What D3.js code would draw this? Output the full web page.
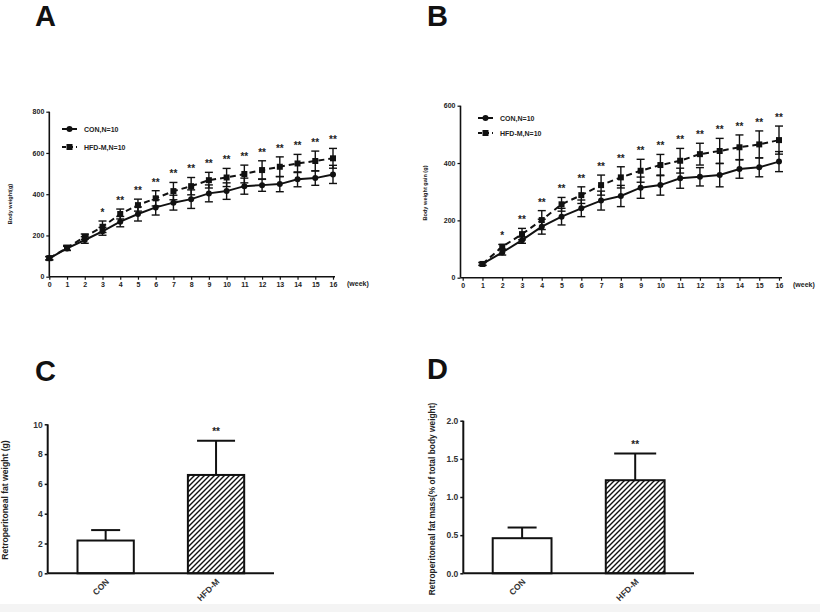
<!DOCTYPE html>
<html>
<head>
<meta charset="utf-8">
<script src="https://cdn.jsdelivr.net/npm/d3@7"></script>
<style>
  html, body { margin: 0; padding: 0; background: #fff; }
  svg { display: block; font-family: "Liberation Sans", Arial, sans-serif; }
</style>
</head>
<body>
<svg id="chart" width="820" height="612"></svg>
<script>
// ---------- DATA ----------
const weeksA = [0,1,2,3,4,5,6,7,8,9,10,11,12,13,14,15,16];
const conA    = [89,137,178,220,267,304,336,359,376,404,415,439,444,449,472,478,496];
const conASd  = [8,10,16,19,25,34,37,36,45,41,40,39,30,37,36,35,44];
const hfdA    = [90,140,194,242,304,347,380,415,439,468,481,498,517,533,549,561,574];
const hfdASd  = [8,12,13,28,24,29,37,42,42,38,44,43,45,48,44,48,48];
const starsA  = ["","","","*","**","**","**","**","**","**","**","**","**","**","**","**","**"];

const weeksB = [1,2,3,4,5,6,7,8,9,10,11,12,13,14,15,16];
const conB    = [48,88,131,178,213,242,269,285,314,323,347,352,358,379,385,405];
const conBSd  = [5,9,11,26,29,29,33,37,37,35,35,32,41,32,33,35];
const hfdB    = [48,108,152,201,256,288,323,350,373,393,408,431,442,455,465,480];
const hfdBSd  = [5,8,20,33,24,29,35,37,40,37,43,38,44,43,47,49];
const starsB  = ["","*","**","**","**","**","**","**","**","**","**","**","**","**","**","**"];

const xTicksLine = [0,1,2,3,4,5,6,7,8,9,10,11,12,13,14,15,16];
const yTicksA = [0,200,400,600,800];
const yTicksB = [0,200,400,600];

const groups     = ["CON","HFD-M"];
const fatWeight  = [2.2, 6.6];
const fatWeightSd= [0.7, 2.3];
const fatPct     = [0.46, 1.22];
const fatPctSd   = [0.14, 0.35];
const barSig     = ["","**"];
const yTicksC = [0,2,4,6,8,10];
const yTicksD = [0,0.5,1.0,1.5,2.0];

const seriesNames = ["CON,N=10","HFD-M,N=10"];

// ---------- DRAW ----------
const svg = d3.select("#chart");
const FONT = "Liberation Sans, Arial, sans-serif";

svg.append("rect").attr("x",0).attr("y",0).attr("width",820).attr("height",612).attr("fill","#fff");
svg.append("rect").attr("x",0).attr("y",604).attr("width",820).attr("height",8).attr("fill","#f4f4f4");

const defs = svg.append("defs");
const pat = defs.append("pattern").attr("id","hatch").attr("patternUnits","userSpaceOnUse")
  .attr("width",5).attr("height",5);
pat.append("rect").attr("width",5).attr("height",5).attr("fill","#fff");
pat.append("path").attr("d","M0,5 L5,0 M-1,1 L1,-1 M4,6 L6,4")
  .attr("stroke","#111").attr("stroke-width",1.4);

// panel letters
[["A",35,26],["B",427,26],["C",35,381],["D",427,379]].forEach(([t,x,y])=>{
  svg.append("text").attr("x",x).attr("y",y).text(t)
    .attr("font-size",29).attr("font-weight","bold").attr("fill","#111");
});

function linePanel(cfg){
  const g = svg.append("g");
  const x = d3.scaleLinear().domain([0,16]).range([cfg.x0, cfg.x1]);
  const y = d3.scaleLinear().domain([0,cfg.ymax]).range([cfg.y0, cfg.y1]);

  // axes
  const ya = d3.axisLeft(y).tickValues(cfg.yticks).tickSize(3).tickPadding(2);
  const yg = g.append("g").attr("transform",`translate(${cfg.ax},0)`).call(ya);
  const xa = d3.axisBottom(x).tickValues(xTicksLine).tickSize(3).tickPadding(2);
  const xg = g.append("g").attr("transform",`translate(0,${cfg.y0})`).call(xa);
  [yg,xg].forEach(a=>{
    a.select(".domain").attr("stroke","#111").attr("stroke-width",1.6);
    a.selectAll(".tick line").attr("stroke","#111").attr("stroke-width",1.2);
    a.selectAll(".tick text").attr("font-size",7).attr("font-weight","bold").attr("fill","#222").attr("font-family",FONT);
  });
  xg.select(".domain").attr("d",`M${cfg.ax},0H${cfg.xEnd}`);
  yg.select(".domain").attr("d",`M0,${cfg.y0}V${cfg.y1}`);

  g.append("text").attr("x",cfg.weekX).attr("y",cfg.y0+9).text("(week)")
    .attr("font-size",7).attr("font-weight","bold").attr("fill","#222");

  g.append("text").attr("transform",`translate(${cfg.titleX},${cfg.titleY}) rotate(-90)`)
    .attr("text-anchor","middle").text(cfg.title)
    .attr("font-size",5.6).attr("font-weight","bold").attr("fill","#222");

  const series = [
    {v:cfg.con, sd:cfg.conSd, dash:null, shape:"circle"},
    {v:cfg.hfd, sd:cfg.hfdSd, dash:"6,4", shape:"square"}
  ];
  series.forEach(s=>{
    const pts = cfg.weeks.map((w,i)=>({w, v:s.v[i], sd:s.sd[i]}));
    // error bars
    const eb = g.append("g").attr("stroke","#111").attr("stroke-width",1.4);
    pts.forEach(p=>{
      const xx = x(p.w);
      eb.append("line").attr("x1",xx).attr("x2",xx).attr("y1",y(p.v-p.sd)).attr("y2",y(p.v+p.sd));
      eb.append("line").attr("x1",xx-4).attr("x2",xx+4).attr("y1",y(p.v+p.sd)).attr("y2",y(p.v+p.sd));
      eb.append("line").attr("x1",xx-4).attr("x2",xx+4).attr("y1",y(p.v-p.sd)).attr("y2",y(p.v-p.sd));
    });
    g.append("path").datum(pts)
      .attr("d", d3.line().x(p=>x(p.w)).y(p=>y(p.v)))
      .attr("fill","none").attr("stroke","#111").attr("stroke-width",2)
      .attr("stroke-dasharray", s.dash);
    pts.forEach(p=>{
      if(s.shape==="circle") g.append("circle").attr("cx",x(p.w)).attr("cy",y(p.v)).attr("r",3).attr("fill","#111");
      else g.append("rect").attr("x",x(p.w)-3).attr("y",y(p.v)-3).attr("width",6).attr("height",6).attr("fill","#111");
    });
  });
  // significance
  cfg.weeks.forEach((w,i)=>{
    if(!cfg.stars[i]) return;
    g.append("text").attr("x",x(w)).attr("y",y(cfg.hfd[i]+cfg.hfdSd[i])-5)
      .attr("text-anchor","middle").text(cfg.stars[i])
      .attr("font-size",10).attr("font-weight","bold").attr("fill","#222");
  });
  // legend
  seriesNames.forEach((nm,i)=>{
    const ly = cfg.legY + i*cfg.legGap;
    g.append("line").attr("x1",cfg.legX).attr("x2",cfg.legX+15).attr("y1",ly).attr("y2",ly)
      .attr("stroke","#111").attr("stroke-width",2).attr("stroke-dasharray", i? "4,3": null);
    if(i===0) g.append("circle").attr("cx",cfg.legX+7.5).attr("cy",ly).attr("r",3).attr("fill","#111");
    else g.append("rect").attr("x",cfg.legX+4.5).attr("y",ly-3).attr("width",6).attr("height",6).attr("fill","#111");
    g.append("text").attr("x",cfg.legX+22).attr("y",ly+2.5).text(nm)
      .attr("font-size",7).attr("font-weight","bold").attr("fill","#222");
  });
}

linePanel({x0:49.3, x1:333, ax:49.3, xEnd:335, y0:276.7, y1:111.7, ymax:800, yticks:yTicksA,
  weeks:weeksA, con:conA, conSd:conASd, hfd:hfdA, hfdSd:hfdASd, stars:starsA,
  weekX:347, title:"Body weight(g)", titleX:12, titleY:204,
  legX:62, legY:129, legGap:18});

linePanel({x0:462.7, x1:779, ax:460.5, xEnd:782, y0:277.7, y1:105.7, ymax:600, yticks:yTicksB,
  weeks:weeksB, con:conB, conSd:conBSd, hfd:hfdB, hfdSd:hfdBSd, stars:starsB,
  weekX:793, title:"Body weight gain (g)", titleX:427, titleY:193,
  legX:478, legY:118, legGap:15});

function barPanel(cfg){
  const g = svg.append("g");
  const y = d3.scaleLinear().domain([0,cfg.ymax]).range([cfg.y0, cfg.y1]);
  const x = d3.scaleBand().domain(groups).range([cfg.ax, cfg.xEnd]).paddingInner(cfg.pi).paddingOuter(cfg.po);

  const ya = d3.axisLeft(y).tickValues(cfg.yticks).tickSize(3).tickPadding(2).tickFormat(cfg.fmt);
  const yg = g.append("g").attr("transform",`translate(${cfg.ax},0)`).call(ya);
  yg.select(".domain").attr("d",`M0,${cfg.y0}V${cfg.y1}`).attr("stroke","#111").attr("stroke-width",2);
  yg.selectAll(".tick line").attr("stroke","#111").attr("stroke-width",1.5);
  yg.selectAll(".tick text").attr("font-size",8.5).attr("font-weight","bold").attr("fill","#333").attr("font-family",FONT);

  // bars
  groups.forEach((c,i)=>{
    g.append("rect").attr("x",x(c)).attr("y",y(cfg.vals[i])).attr("width",x.bandwidth())
      .attr("height",cfg.y0-y(cfg.vals[i]))
      .attr("fill", i? "url(#hatch)":"#fff").attr("stroke","#111").attr("stroke-width",2);
    const cx = x(c)+x.bandwidth()/2;
    const top = y(cfg.vals[i]+cfg.sds[i]);
    g.append("line").attr("x1",cx).attr("x2",cx).attr("y1",y(cfg.vals[i])).attr("y2",top)
      .attr("stroke","#111").attr("stroke-width",2);
    g.append("line").attr("x1",cx-cfg.caps[i]).attr("x2",cx+cfg.caps[i]).attr("y1",top).attr("y2",top)
      .attr("stroke","#111").attr("stroke-width",2);
    if(barSig[i]) g.append("text").attr("x",cx).attr("y",top-6).attr("text-anchor","middle")
      .text(barSig[i]).attr("font-size",10).attr("font-weight","bold").attr("fill","#222");
    g.append("text").attr("transform",`translate(${cx+4},${cfg.y0+9}) rotate(-45)`)
      .attr("text-anchor","end").text(c)
      .attr("font-size",8.5).attr("font-weight","bold").attr("fill","#333");
  });
  // x axis line on top
  g.append("line").attr("x1",cfg.ax).attr("x2",cfg.xEnd).attr("y1",cfg.y0).attr("y2",cfg.y0)
    .attr("stroke","#111").attr("stroke-width",2);

  g.append("text").attr("transform",`translate(${cfg.titleX},${cfg.titleY}) rotate(-90)`)
    .attr("text-anchor","middle").text(cfg.title)
    .attr("font-size",cfg.titleSize).attr("font-weight","bold").attr("fill","#222");
}

barPanel({ax:47.7, xEnd:274, y0:573.3, y1:424.3, ymax:10, yticks:yTicksC, fmt:d3.format("d"),
  vals:fatWeight, sds:fatWeightSd, pi:0.49, po:0.27, caps:[14.5,19],
  title:"Retroperitoneal fat weight (g)", titleX:8, titleY:500, titleSize:8.6});

barPanel({ax:463.3, xEnd:694, y0:573.3, y1:420.7, ymax:2, yticks:yTicksD, fmt:d3.format(".1f"),
  vals:fatPct, sds:fatPctSd, pi:0.48, po:0.26, caps:[14.5,21],
  title:"Retroperitoneal fat mass(% of total body weight)", titleX:435, titleY:499, titleSize:8.4});
</script>
</body>
</html>
